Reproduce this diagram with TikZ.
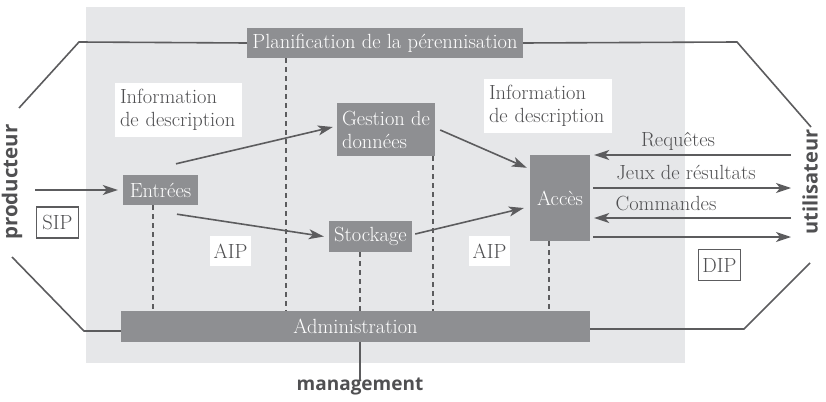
\documentclass[tikz,border=0pt]{standalone}
\usepackage{fontspec}
\newfontfamily\labelsans{Open Sans}[BoldFont={* Bold}]
\usetikzlibrary{arrows.meta,calc}

\definecolor{panelgray}{RGB}{230,231,233}
\definecolor{boxgray}{RGB}{142,143,146}
\definecolor{linegray}{RGB}{92,92,94}
\definecolor{textgray}{RGB}{80,80,82}

\tikzset{
  every node/.style={font=\fontsize{20.5}{23}\selectfont, text=textgray, inner sep=0pt},
  block/.style={fill=boxgray, text=white, align=center},
  plain/.style={fill=white, align=left, text=textgray},
  framed/.style={draw=linegray, line width=1.2pt, fill=white, minimum width=42pt, minimum height=31pt},
  link/.style={draw=linegray, line width=1.6pt},
  flow/.style={link, -{Stealth[length=15pt,width=10pt,inset=4pt]}},
  guide/.style={draw=linegray, line width=1.6pt, dash pattern=on 5pt off 4pt},
  actor/.style={font=\labelsans\bfseries\fontsize{19}{22}\selectfont, text=textgray}
}

\begin{document}
\begin{tikzpicture}[x=1pt,y=-1pt]
  \useasboundingbox (0,0) rectangle (826,401);
  % the archive itself
  \fill[panelgray] (86,7) rectangle (685,363);

  % functional entities
  \node[block, minimum width=276pt, minimum height=30pt] (plan) at (385,43) {Planification de la pérennisation};
  \node[block, minimum width=98pt, minimum height=53pt, align=left] (gest) at (386,129.5) {Gestion de\\données};
  \node[block, minimum width=75pt, minimum height=30pt] (entr) at (160.5,190) {Entrées};
  \node[block, minimum width=83pt, minimum height=31pt] (stock) at (370.5,236.5) {Stockage};
  \node[block, minimum width=60pt, minimum height=86pt] (acces) at (560,198) {Accès};
  \node[block, minimum width=469pt, minimum height=31pt] (admin) at (355.5,326.5) {Administration};

  % information labels
  \node[plain, minimum width=127pt, minimum height=54pt, text width=117pt] (infoL) at (178.5,110) {Information\\de description};
  \node[plain, minimum width=128pt, minimum height=54pt, text width=118pt] (infoR) at (548,106) {Information\\de description};
  \node[plain, minimum width=41pt, minimum height=30pt, align=center] (aipL) at (230.5,251) {AIP};
  \node[plain, minimum width=41pt, minimum height=30pt, align=center] (aipR) at (489.5,251) {AIP};
  \node[framed] (sip) at (57.5,222.5) {SIP};
  \node[framed] (dip) at (719.5,265) {DIP};

  % external parties
  \node[actor, rotate=90, font=\labelsans\bfseries\fontsize{20.5}{22}\selectfont] (prod) at (12,182) {producteur};
  \node[actor, rotate=90, font=\labelsans\bfseries\fontsize{20}{22}\selectfont] (user) at (810,182) {utilisateur};
  \node[actor] (mgmt) at (360,386) {management};

  % coordination lines to the administration
  \coordinate (g1) at (153,0);
  \coordinate (g2) at (286,0);
  \coordinate (g3) at (360,0);
  \coordinate (g4) at (433,0);
  \coordinate (g5) at (549,0);
  \draw[guide] (entr.south -| g1) -- (admin.north -| g1);
  \draw[guide] (plan.south -| g2) -- (admin.north -| g2);
  \draw[guide] (stock.south -| g3) -- (admin.north -| g3);
  \draw[guide] (gest.south -| g4) -- (admin.north -| g4);
  \draw[guide] (acces.south -| g5) -- (admin.north -| g5);
  \draw[link] (admin.south -| g3) -- ([yshift=-3pt]mgmt.north -| g3);

  % outer links to producer and user
  \coordinate (pt) at (79,42);
  \coordinate (pte) at (19,108);
  \coordinate (ut) at (737,42);
  \coordinate (ute) at (811,127);
  \coordinate (pb) at (84,331);
  \coordinate (pbe) at (12,257);
  \coordinate (ub) at (744,329);
  \coordinate (ube) at (810,263);
  \draw[link] (plan.west) -- (pt) -- (pte);
  \draw[link] (plan.east) -- (ut) -- (ute);
  \draw[link] (admin.west |- pb) -- (pb) -- (pbe);
  \draw[link] (admin.east |- ub) -- (ub) -- (ube);

  % data flows
  \coordinate (pin) at (35,190);
  \draw[flow] (pin) -- ([xshift=-5pt]entr.west);
  \draw[flow] ([shift={(15.5,-11)}]entr.north) -- ([shift={(-4,-2.5)}]gest.west);
  \draw[flow] ([shift={(16.5,9)}]entr.south) -- ([shift={(-5,0)}]stock.west);
  \draw[flow] ([shift={(3,-2.5)}]stock.east) -- ([shift={(-6,10)}]acces.west);
  \draw[flow] ([shift={(5,0.5)}]gest.east) -- ([shift={(-3,13)}]acces.north west);

  \coordinate (u1) at (791,155);
  \coordinate (u2) at (791,188);
  \coordinate (u3) at (791,218);
  \coordinate (u4) at (791,237);
  \draw[flow] (u1) -- ([xshift=4pt]acces.east |- u1);
  \draw[flow] ([xshift=3pt]acces.east |- u2) -- (u2);
  \draw[flow] (u3) -- ([xshift=4pt]acces.east |- u3);
  \draw[flow] ([xshift=3pt]acces.east |- u4) -- (u4);

  \node (lreq) at (678,141) {Requêtes};
  \node (ljeux) at (686,173) {Jeux de résultats};
  \node (lcmd) at (666,203) {Commandes};
\end{tikzpicture}
\end{document}
